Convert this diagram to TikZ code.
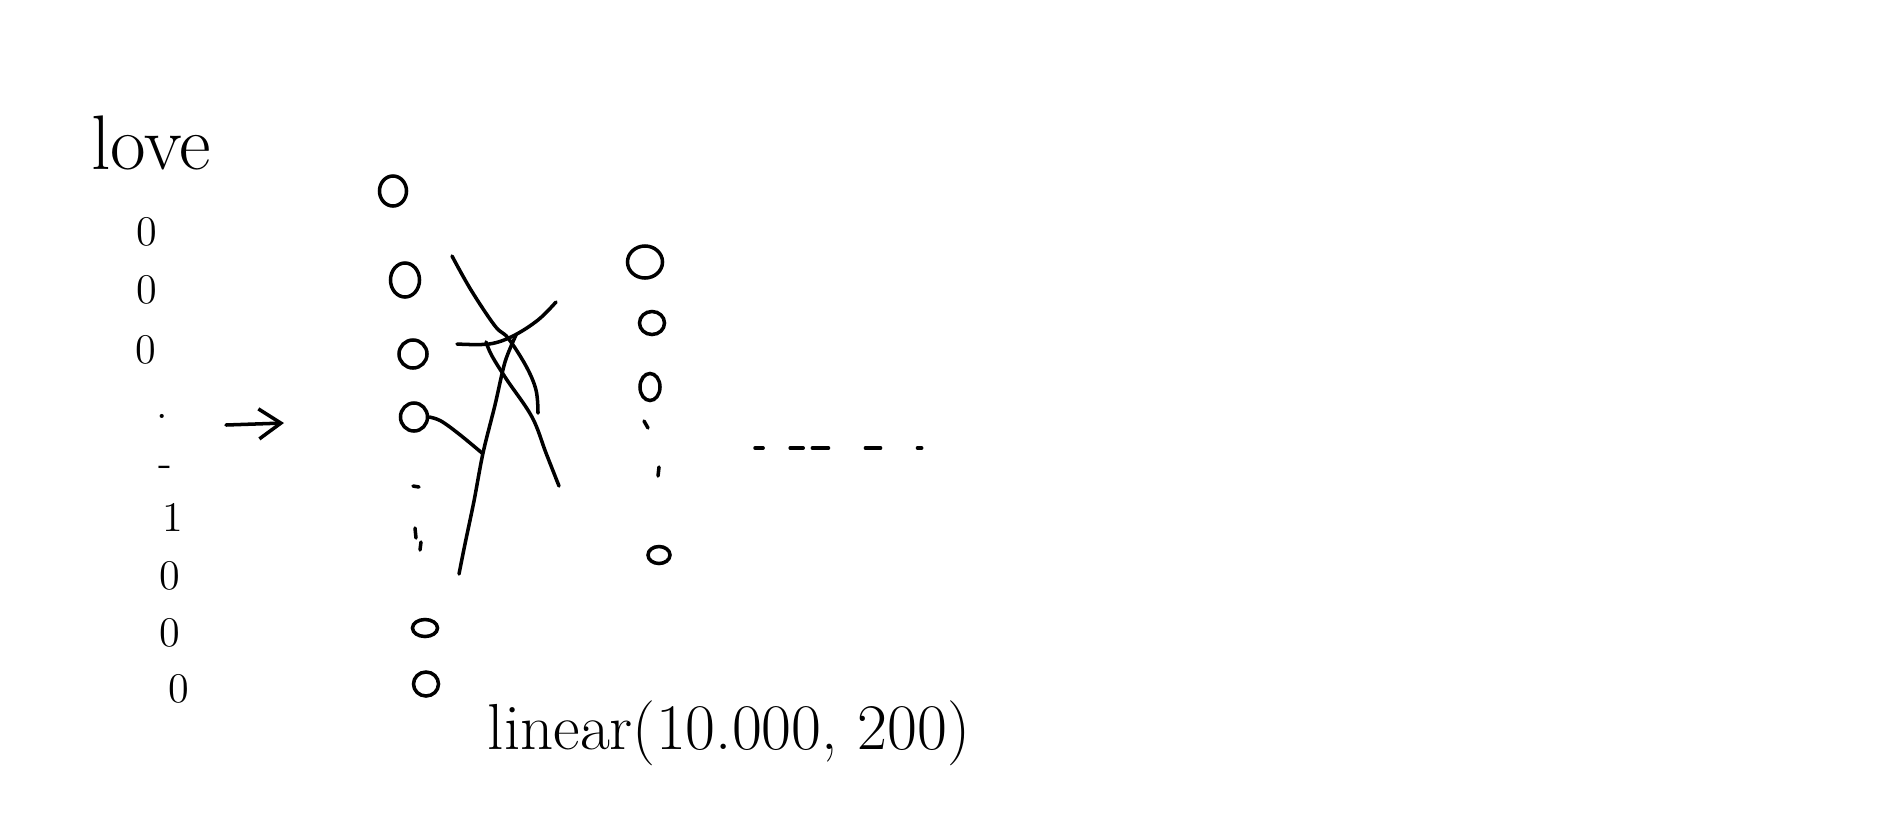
\documentclass[tikz,border=0pt]{standalone}
\usepackage{tikz}
\usetikzlibrary{arrows.meta,positioning,shapes.geometric}
\tikzset{
  >=Stealth,
  bit/.style={font=\fontsize{12}{14}\selectfont, inner sep=0pt},
  nrn/.style={ellipse, draw, line width=1pt, inner sep=0pt, minimum width=2.6mm, minimum height=2.6mm},
  wire/.style={line width=1pt, line cap=round},
  lbl/.style={font=\fontsize{18.5}{20}\selectfont, inner sep=0pt, anchor=base}
}

\begin{document}
\begin{tikzpicture}[x=0.01cm, y=-0.01cm]
    \useasboundingbox (0,0) rectangle (1894,833);

    % Input word and its one-hot column
    \node[lbl, font=\fontsize{22}{24}\selectfont] (word) at (151,169) {love};
    \node[bit] (b1) at (147,232) {0};
    \node[bit] (b2) at (147,290) {0};
    \node[bit] (b3) at (146,350) {0};
    \node[bit] (b4) at (162,416) {.};
    \node[bit] (b5) at (165,471) {-};
    \node[bit] (b6) at (173,517) {1};
    \node[bit] (b7) at (170,576) {0};
    \node[bit] (b8) at (170,633) {0};
    \node[bit] (b9) at (179,689) {0};

    % Arrow into the layer
    \coordinate (a1) at (226,425);
    \coordinate (a2) at (284,423);
    \draw[wire, -{Straight Barb[length=2.2mm, width=3mm]}] (a1) -- (a2);

    % Hidden layer
    \node[nrn, minimum width=2.7mm, minimum height=3mm] (h1) at (393,191) {};
    \node[nrn, minimum width=2.9mm, minimum height=3.4mm] (h2) at (405,280) {};
    \node[nrn, minimum width=2.8mm, minimum height=2.8mm] (h3) at (413,354) {};
    \node[nrn, minimum width=2.7mm, minimum height=2.8mm] (h4) at (414,417) {};
    \node[nrn, minimum width=2.5mm, minimum height=1.7mm] (h5) at (425,628) {};
    \node[nrn, minimum width=2.5mm, minimum height=2.4mm] (h6) at (426,684) {};
    \draw[wire] (413,486) -- (419,487);
    \draw[wire] (415,528) -- (416,538);
    \draw[wire] (421,542) -- (420,550);

    % Weights, scribbled
    \draw[wire] plot[smooth, tension=0.6] coordinates {(452,256) (471,290) (495,326) (508,338) (526,366) (536,390) (538,413)};
    \draw[wire] plot[smooth, tension=0.6] coordinates {(457,344) (489,344) (513,336) (538,320) (556,302)};
    \draw[wire] plot[smooth, tension=0.6] coordinates {(486,342) (492,356) (507,380) (532,417) (546,453) (559,486)};
    \draw[wire] plot[smooth, tension=0.5] coordinates {(516,335) (505,362) (495,405) (483,453) (474,501) (465,544) (459,574)};
    \draw[wire] plot[smooth, tension=0.6] coordinates {(h4.east) (441,421) (459,434) (482,453)};

    % Output layer
    \node[nrn, minimum width=3.5mm, minimum height=3.2mm] (o1) at (645,262) {};
    \node[nrn, minimum width=2.5mm, minimum height=2.3mm] (o2) at (652,323) {};
    \node[nrn, minimum width=2mm, minimum height=2.7mm] (o3) at (650,387) {};
    \node[nrn, minimum width=2.2mm, minimum height=1.7mm] (o4) at (659,555) {};
    \draw[wire] (644,421) -- (648,428);
    \draw[wire] (659,467) -- (658,476);

    % Further layers
    \coordinate (t1) at (755,448);
    \coordinate (t2) at (923,448);
    \draw[wire, dash pattern=on 2.3pt off 7.7pt on 3.7pt off 2.6pt on 4.6pt off 10.5pt on 4.3pt off 10.5pt on 1.2pt off 5pt] (t1) -- (t2);

    % Layer size
    \node[lbl] (lin) at (729,749) {linear(10.000, 200)};
\end{tikzpicture}
\end{document}
